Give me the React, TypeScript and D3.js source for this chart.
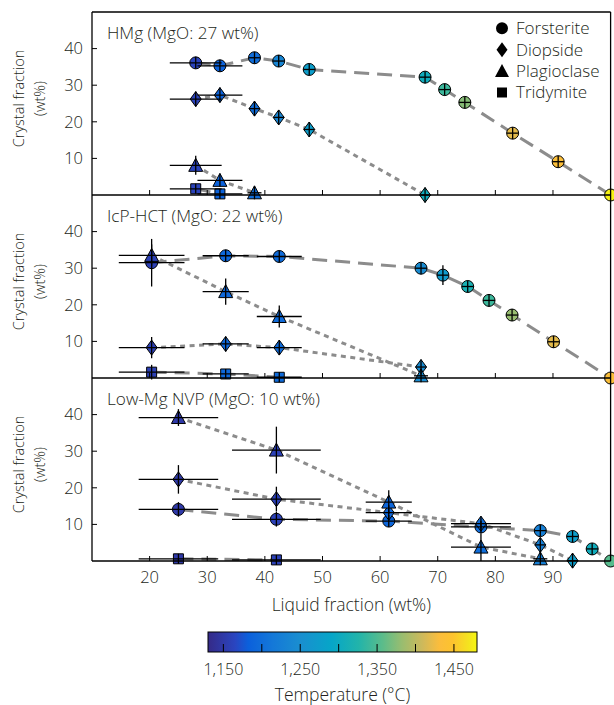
import React from 'react'
import * as d3 from 'd3'

// panel 1: HMg
const hmgLiquid = [28, 32.2, 38.2, 42.4, 47.7, 67.8, 71.2, 74.7, 83, 90.9, 100]
const hmgLiquidErr = [4.5, 3.9, 0, 0, 0, 0, 0, 0, 0, 0, 0]
const hmgTemp = [1162, 1186, 1200, 1235, 1277, 1305, 1340, 1375, 1420, 1435, 1477]
const hmgForsterite = [36.1, 35.3, 37.5, 36.6, 34.3, 32.2, 28.8, 25.3, 16.9, 9.1, 0]
const hmgForsteriteErr = [0, 1, 0, 0, 0, 0, 0, 0, 0, 0, 0]
const hmgDiopside = [26.2, 27.3, 23.6, 21.2, 17.9, 0]
const hmgDiopsideErr = [0, 1.5, 0, 0, 0, 0]
const hmgPlagioclase = [8.1, 4.0, 0.6]
const hmgPlagioclaseErr = [2.6, 0, 0]
const hmgTridymite = [1.7, 0.3]
const hmgTridymiteErr = [1, 0]

// panel 2: IcP-HCT
const icpLiquid = [20.35, 33.2, 42.5, 67.1, 70.9, 75.2, 78.9, 82.9, 90.1, 100]
const icpLiquidErr = [5.7, 4, 3.9, 0, 0, 0, 0, 0, 0, 0]
const icpTemp = [1158, 1193, 1197, 1245, 1270, 1315, 1340, 1382, 1420, 1435]
const icpForsterite = [31.5, 33.4, 33.2, 30.0, 28.1, 25.0, 21.2, 17.2, 9.9, 0]
const icpForsteriteErr = [6.5, 0, 0, 0, 2.7, 0, 0, 0, 0, 0]
const icpDiopside = [8.3, 9.3, 8.3, 3.0]
const icpDiopsideErr = [2.9, 1.5, 0, 0]
const icpPlagioclase = [33.5, 23.6, 16.8, 0.6]
const icpPlagioclaseErr = [3, 3.6, 3, 0]
const icpTridymite = [1.6, 1.1, 0.2]
const icpTridymiteErr = [2, 0, 0]

// panel 3: Low-Mg NVP
const nvpLiquid = [25, 42, 61.5, 77.5, 87.8, 93.4, 96.8, 100]
const nvpLiquidErr = [6.9, 7.7, 4.0, 5.2, 0, 0, 0, 0]
const nvpTemp = [1150, 1160, 1190, 1200, 1225, 1277, 1305, 1355]
const nvpForsterite = [14.1, 11.4, 10.9, 9.3, 8.3, 6.7, 3.3, 0]
const nvpForsteriteErr = [2, 2, 0, 0, 0, 0, 0, 0]
const nvpDiopside = [22.3, 16.9, 13.2, 10.2, 4.4, 0.1]
const nvpDiopsideErr = [3.9, 3.4, 0, 1.5, 0, 0]
const nvpPlagioclase = [39.2, 30.3, 16.1, 3.8, 0.6]
const nvpPlagioclaseErr = [2.3, 6.4, 3.2, 3.8, 0]
const nvpTridymite = [0.6, 0.3]
const nvpTridymiteErr = [0, 0]

const panelTitles = ['HMg (MgO: 27 wt%)', 'IcP-HCT (MgO: 22 wt%)', 'Low-Mg NVP (MgO: 10 wt%)']
const minerals = ['Forsterite', 'Diopside', 'Plagioclase', 'Tridymite']
const xTicks = [20, 30, 40, 50, 60, 70, 80, 90]
const yTicks = [10, 20, 30, 40]
const tempTicks = [1150, 1200, 1250, 1300, 1350, 1400, 1450]
const tempLabels = [1150, 1250, 1350, 1450]

// colormap (position 0..1, colour)
const cmapPos = [0, 0.1, 0.15, 0.24, 0.34, 0.46, 0.56, 0.65, 0.72, 0.8, 0.86, 0.91, 0.97, 1]
const cmapColors = ['#352a87', '#2a45c0', '#0b60dc', '#1478d8', '#1a8ed0', '#06a6c8', '#22b4aa',
  '#5cbc8a', '#98bd70', '#d0b95a', '#fbbd3c', '#fdc32e', '#f4e41f', '#f7f711']
const tempMin = 1130, tempMax = 1480

const panels = [
  { liquid: hmgLiquid, liquidErr: hmgLiquidErr, temp: hmgTemp,
    series: [[hmgForsterite, hmgForsteriteErr], [hmgDiopside, hmgDiopsideErr], [hmgPlagioclase, hmgPlagioclaseErr], [hmgTridymite, hmgTridymiteErr]] },
  { liquid: icpLiquid, liquidErr: icpLiquidErr, temp: icpTemp,
    series: [[icpForsterite, icpForsteriteErr], [icpDiopside, icpDiopsideErr], [icpPlagioclase, icpPlagioclaseErr], [icpTridymite, icpTridymiteErr]] },
  { liquid: nvpLiquid, liquidErr: nvpLiquidErr, temp: nvpTemp,
    series: [[nvpForsterite, nvpForsteriteErr], [nvpDiopside, nvpDiopsideErr], [nvpPlagioclase, nvpPlagioclaseErr], [nvpTridymite, nvpTridymiteErr]] },
]

const FONT = '"Open Sans", sans-serif'
const TXT = '#231f20'
const left = 92, right = 610.6
const panelH = 183
const panelTop = [12, 195, 378]
const dashes = ['15,8', '5,4.5', '5,4.5', '15,8']

// half width / half height of each marker
const markerHalf = [[6, 6], [5.5, 7.5], [7, 6.5], [5, 5]]

const markerPath = (k, cx, cy) => {
  if (k === 0) return `M${cx - 6},${cy}a6,6 0 1,0 12,0a6,6 0 1,0 -12,0Z`
  if (k === 1) return `M${cx},${cy - 7.5}L${cx + 5.5},${cy}L${cx},${cy + 7.5}L${cx - 5.5},${cy}Z`
  if (k === 2) return `M${cx},${cy - 7}L${cx + 7},${cy + 6}L${cx - 7},${cy + 6}Z`
  return `M${cx - 5},${cy - 5}h10v10h-10Z`
}

const x = d3.scaleLinear().domain([10, 100]).range([left, right])
const color = d3.scaleLinear<string>()
  .domain(cmapPos.map(p => tempMin + p * (tempMax - tempMin)))
  .range(cmapColors)
  .interpolate(d3.interpolateRgb)

function Panel({ index }) {
  const p = panels[index]
  const top = panelTop[index]
  const bottom = top + panelH
  const y = d3.scaleLinear().domain([0, 50]).range([bottom, top])
  const line = d3.line<[number, number]>().x(d => x(d[0])).y(d => y(d[1]))

  return (
    <g>
      {/* guide lines */}
      {p.series.map(([vals], k) => {
        const pts = vals.map((v, i) => [p.liquid[i], v] as [number, number])
        return <path key={'l' + k} d={line(pts)} fill="none" stroke="#8c8c8c"
          strokeWidth={3} strokeDasharray={dashes[k]} />
      })}
      {/* markers */}
      {p.series.map(([vals], k) =>
        vals.map((v, i) => (
          <path key={`m${k}-${i}`} d={markerPath(k, x(p.liquid[i]), y(v))}
            fill={color(p.temp[i])} stroke="#000" strokeWidth={1} />
        ))
      )}
      {/* error bars drawn on top */}
      {p.series.map(([vals, errs], k) =>
        vals.map((v, i) => {
          const cx = x(p.liquid[i]), cy = y(v)
          if (p.liquid[i] === 100) return null
          const hx = Math.max(x(p.liquid[i] + p.liquidErr[i]) - cx, markerHalf[k][0])
          const hy = Math.max(cy - y(v + errs[i]), markerHalf[k][1])
          return (
            <g key={`e${k}-${i}`} stroke="#000" strokeWidth={1.3}>
              <line x1={cx - hx} x2={cx + hx} y1={cy} y2={cy} />
              <line x1={cx} x2={cx} y1={cy - hy} y2={cy + hy} />
            </g>
          )
        })
      )}
      {/* axes frame */}
      <line x1={left} x2={right} y1={bottom} y2={bottom} stroke="#000" strokeWidth={1.3} />
      <line x1={left} x2={left} y1={top} y2={bottom} stroke="#000" strokeWidth={1.3} />
      <line x1={right} x2={right} y1={top} y2={bottom} stroke="#000" strokeWidth={1.3} />
      {index === 0 && <line x1={left} x2={right} y1={top} y2={top} stroke="#000" strokeWidth={1.3} />}
      {xTicks.map(t => (
        <line key={'xt' + t} x1={x(t)} x2={x(t)} y1={bottom} y2={bottom - 5} stroke="#000" strokeWidth={1} />
      ))}
      {yTicks.map(t => (
        <g key={'yt' + t}>
          <line x1={left} x2={left + 5} y1={y(t)} y2={y(t)} stroke="#000" strokeWidth={1} />
          <text x={83} y={y(t)} dy="0.35em" textAnchor="end" fontSize={16.5} fill={TXT}>{t}</text>
        </g>
      ))}
      <text x={107} y={top + 21} dy="0.35em" fontSize={17.2} fill={TXT}>{panelTitles[index]}</text>
      <g transform={`translate(0,${top + panelH / 2 - 5}) rotate(-90)`}>
        <text x={0} y={19} dy="0.35em" textAnchor="middle" fontSize={14.5} fill={TXT}>Crystal fraction</text>
        <text x={0} y={40} dy="0.35em" textAnchor="middle" fontSize={14.5} fill={TXT}>(wt%)</text>
      </g>
    </g>
  )
}

export default function App() {
  const cbLeft = 208, cbRight = 477, cbTop = 632, cbBottom = 652
  const tx = d3.scaleLinear().domain([tempMin, tempMax]).range([cbLeft, cbRight])
  const fmt = d3.format(',')
  const lastBottom = panelTop[2] + panelH

  return (
    <svg width={614} height={705} style={{ position: 'absolute', left: 0, top: 0, fontFamily: FONT, fontWeight: 300 }}>
      <defs>
        <linearGradient id="cmap" x1="0" x2="1" y1="0" y2="0">
          {cmapPos.map((p, i) => <stop key={i} offset={p} stopColor={cmapColors[i]} />)}
        </linearGradient>
      </defs>
      {panels.map((_, i) => <Panel key={i} index={i} />)}

      {/* legend */}
      {minerals.map((m, k) => {
        const ly = 28.3 + k * 21.4
        return (
          <g key={m}>
            <path d={markerPath(k, 502, ly)} fill="#000" />
            <text x={516} y={ly} dy="0.35em" fontSize={17} fill={TXT}>{m}</text>
          </g>
        )
      })}

      {xTicks.map(t => (
        <text key={'xl' + t} x={x(t)} y={lastBottom + 16} dy="0.35em" textAnchor="middle" fontSize={16.5} fill={TXT}>{t}</text>
      ))}
      <text x={(left + right) / 2} y={lastBottom + 44} dy="0.35em" textAnchor="middle" fontSize={17.5} fill={TXT}>Liquid fraction (wt%)</text>

      {/* colour bar */}
      <rect x={cbLeft} y={cbTop} width={cbRight - cbLeft} height={cbBottom - cbTop} fill="url(#cmap)" stroke="#000" strokeWidth={1} />
      {tempTicks.map(t => (
        <line key={'ct' + t} x1={tx(t)} x2={tx(t)} y1={cbBottom} y2={cbBottom - 8} stroke="#000" strokeWidth={1} />
      ))}
      {tempLabels.map(t => (
        <text key={'cl' + t} x={tx(t)} y={669} dy="0.35em" textAnchor="middle" fontSize={16} fill={TXT}>{fmt(t)}</text>
      ))}
      <text x={(cbLeft + cbRight) / 2} y={701} textAnchor="middle" fontSize={17.5} fill={TXT}>Temperature (°C)</text>
    </svg>
  )
}
